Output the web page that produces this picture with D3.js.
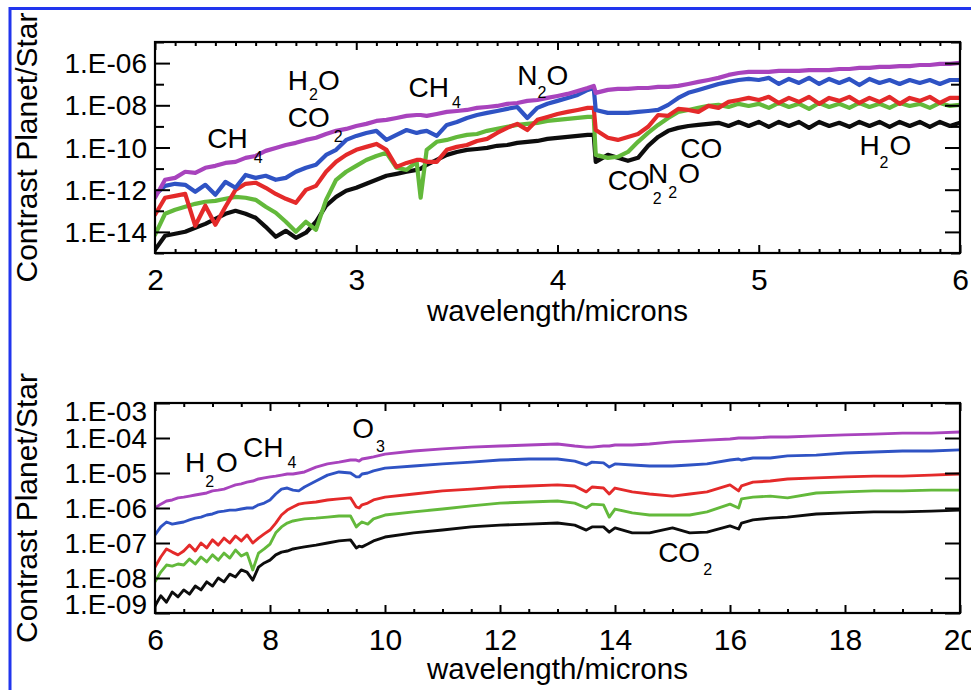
<!DOCTYPE html>
<html><head><meta charset="utf-8">
<script src="https://cdn.jsdelivr.net/npm/d3@7"></script>
<style>
body{margin:0;background:#fff}
svg{display:block}
text{font-family:"Liberation Sans",Arial,Helvetica,sans-serif;fill:#000}
</style>
</head><body>
<svg id="c" width="971" height="690"></svg>
<script>
// ---------- DATA (log10 of planet/star contrast) ----------
// Top panel: 2-6 microns
const waveSW = [2.00,2.05,2.10,2.15,2.20,2.25,2.30,2.35,2.40,2.45,2.50,2.55,2.60,2.65,2.70,2.75,2.80,2.85,2.90,2.95,3.00,3.05,3.10,3.15,3.20,3.25,3.30,3.32,3.35,3.40,3.45,3.50,3.55,3.60,3.65,3.70,3.75,3.80,3.85,3.90,3.95,4.00,4.05,4.10,4.15,4.18,4.19,4.25,4.30,4.35,4.40,4.45,4.50,4.55,4.60,4.65,4.70,4.75,4.80,4.85,4.90,4.95,5.00,5.05,5.10,5.15,5.20,5.25,5.30,5.35,5.40,5.45,5.50,5.55,5.60,5.65,5.70,5.75,5.80,5.85,5.90,5.95,6.00];
const magentaSW = [-12.38,-11.53,-11.44,-11.15,-11.20,-10.96,-10.87,-10.73,-10.68,-10.49,-10.40,-10.16,-10.02,-9.88,-9.78,-9.64,-9.54,-9.36,-9.21,-9.12,-8.98,-8.88,-8.74,-8.69,-8.60,-8.50,-8.46,-8.46,-8.50,-8.41,-8.31,-8.27,-8.22,-8.12,-8.08,-8.03,-7.93,-7.89,-7.79,-7.75,-7.65,-7.56,-7.46,-7.32,-7.18,-7.08,-7.41,-7.27,-7.22,-7.22,-7.18,-7.18,-7.13,-7.13,-7.08,-6.99,-6.89,-6.80,-6.70,-6.56,-6.47,-6.42,-6.42,-6.42,-6.37,-6.37,-6.37,-6.33,-6.33,-6.33,-6.28,-6.28,-6.23,-6.23,-6.18,-6.18,-6.14,-6.14,-6.09,-6.09,-6.04,-6.04,-5.99];
const blueSW = [-12.24,-11.82,-11.72,-11.77,-12.10,-11.77,-12.24,-11.63,-11.91,-11.30,-11.44,-11.34,-11.53,-11.44,-11.15,-10.96,-10.82,-10.35,-10.11,-9.64,-9.45,-9.31,-9.21,-9.64,-9.40,-9.17,-9.31,-9.26,-9.21,-9.45,-8.93,-8.79,-8.60,-8.46,-8.36,-8.27,-8.17,-8.08,-8.60,-8.12,-7.93,-7.79,-7.65,-7.51,-7.27,-7.18,-8.22,-8.36,-8.36,-8.36,-8.31,-8.27,-8.22,-7.98,-7.65,-7.41,-7.27,-7.13,-6.99,-6.89,-6.80,-6.75,-6.80,-6.70,-6.99,-6.75,-6.94,-6.70,-6.99,-6.75,-6.94,-6.75,-7.04,-6.75,-6.94,-6.80,-6.99,-6.80,-6.94,-6.80,-6.99,-6.80,-6.80];
const redSW = [-13.19,-12.38,-12.29,-12.20,-13.71,-12.76,-13.66,-12.81,-12.01,-11.72,-11.67,-11.91,-12.20,-12.43,-12.62,-12.01,-11.82,-11.15,-10.68,-10.35,-10.11,-9.97,-9.83,-10.11,-10.92,-10.73,-10.59,-10.59,-10.68,-10.68,-10.11,-9.97,-9.88,-9.69,-9.59,-9.31,-9.07,-8.88,-9.17,-8.69,-8.55,-8.41,-8.31,-8.22,-8.12,-8.12,-9.17,-9.54,-9.64,-9.50,-9.36,-9.02,-8.46,-8.50,-8.17,-8.22,-8.31,-8.03,-8.12,-7.84,-7.75,-7.65,-7.75,-7.60,-7.89,-7.65,-7.84,-7.60,-7.93,-7.65,-7.79,-7.60,-7.89,-7.65,-7.84,-7.60,-7.93,-7.65,-7.79,-7.60,-7.89,-7.65,-7.65];
const greenSW = [-14.14,-13.14,-12.95,-12.81,-12.67,-12.57,-12.53,-12.43,-12.34,-12.38,-12.48,-12.81,-13.09,-13.52,-13.99,-13.52,-13.90,-12.48,-11.53,-11.15,-10.87,-10.59,-10.40,-10.25,-10.96,-11.06,-10.68,-12.38,-10.11,-9.73,-9.64,-9.50,-9.40,-9.36,-9.21,-9.12,-9.02,-8.93,-8.88,-8.83,-8.74,-8.69,-8.64,-8.60,-8.55,-8.55,-10.35,-10.49,-10.44,-10.21,-9.73,-9.31,-8.93,-8.60,-8.31,-8.22,-8.12,-8.03,-7.98,-8.08,-7.93,-8.03,-7.93,-8.12,-7.89,-8.08,-7.93,-8.17,-7.89,-8.08,-7.93,-8.12,-7.89,-8.08,-7.93,-8.12,-7.89,-8.03,-7.93,-8.12,-7.89,-8.03,-7.98];
const blackSW = [-14.85,-14.18,-14.09,-13.99,-13.80,-13.62,-13.38,-13.14,-13.00,-13.14,-13.33,-13.76,-14.23,-13.95,-14.28,-14.04,-13.52,-12.76,-12.34,-12.05,-11.91,-11.72,-11.53,-11.34,-11.25,-11.15,-11.06,-11.01,-10.82,-10.59,-10.35,-10.21,-10.11,-10.07,-10.02,-9.92,-9.88,-9.78,-9.73,-9.69,-9.59,-9.54,-9.50,-9.45,-9.40,-9.40,-10.68,-10.35,-10.49,-10.63,-10.49,-9.92,-9.50,-9.21,-9.07,-8.98,-8.93,-8.88,-8.83,-8.98,-8.79,-8.98,-8.79,-9.02,-8.79,-8.98,-8.79,-9.07,-8.79,-8.98,-8.83,-9.02,-8.79,-8.98,-8.79,-9.02,-8.79,-8.98,-8.79,-9.02,-8.79,-8.98,-8.83];

// Bottom panel: 6-20 microns
const waveLW = [6.0,6.1,6.2,6.3,6.4,6.5,6.6,6.7,6.8,6.9,7.0,7.1,7.2,7.3,7.4,7.5,7.6,7.7,7.8,7.9,8.0,8.1,8.2,8.3,8.4,8.5,8.6,8.8,9.0,9.2,9.4,9.5,9.55,9.6,9.7,9.8,10.0,10.5,11.0,11.5,12.0,12.5,13.0,13.3,13.5,13.6,13.8,13.9,14.0,14.3,14.6,15.0,15.3,15.6,16.0,16.15,16.2,16.4,16.7,17.0,17.5,18.0,18.5,19.0,19.5,20.0];
const magentaLW = [-6.00,-5.89,-5.80,-5.77,-5.71,-5.69,-5.66,-5.63,-5.60,-5.57,-5.51,-5.49,-5.46,-5.40,-5.34,-5.31,-5.26,-5.23,-5.17,-5.14,-5.11,-5.09,-5.06,-5.03,-5.03,-5.00,-4.97,-4.83,-4.74,-4.69,-4.63,-4.63,-4.66,-4.60,-4.57,-4.54,-4.46,-4.37,-4.31,-4.26,-4.23,-4.20,-4.17,-4.23,-4.26,-4.26,-4.23,-4.23,-4.20,-4.20,-4.17,-4.11,-4.09,-4.06,-4.03,-4.00,-4.00,-4.00,-3.97,-3.97,-3.94,-3.91,-3.89,-3.86,-3.86,-3.83];
const blueLW = [-6.77,-6.54,-6.40,-6.46,-6.43,-6.40,-6.34,-6.29,-6.26,-6.20,-6.17,-6.11,-6.09,-6.06,-6.06,-6.03,-6.00,-6.00,-5.91,-5.86,-5.77,-5.60,-5.46,-5.43,-5.49,-5.51,-5.40,-5.23,-5.06,-4.97,-5.00,-5.11,-5.11,-5.03,-5.00,-4.94,-4.86,-4.80,-4.74,-4.69,-4.63,-4.60,-4.60,-4.66,-4.77,-4.69,-4.71,-4.83,-4.74,-4.77,-4.80,-4.80,-4.77,-4.74,-4.63,-4.60,-4.63,-4.57,-4.57,-4.51,-4.49,-4.43,-4.40,-4.37,-4.37,-4.34];
const redLW = [-7.69,-7.40,-7.17,-7.26,-7.34,-7.23,-7.06,-7.23,-7.00,-7.14,-6.91,-7.06,-6.86,-7.00,-6.80,-6.94,-6.77,-7.00,-6.86,-6.74,-6.63,-6.43,-6.20,-6.06,-5.97,-5.89,-5.86,-5.83,-5.77,-5.74,-5.71,-5.97,-6.00,-5.91,-5.86,-5.77,-5.69,-5.60,-5.51,-5.46,-5.40,-5.37,-5.34,-5.37,-5.54,-5.40,-5.43,-5.60,-5.43,-5.54,-5.60,-5.66,-5.60,-5.54,-5.34,-5.51,-5.37,-5.26,-5.23,-5.17,-5.14,-5.11,-5.09,-5.09,-5.06,-5.03];
const greenLW = [-8.11,-7.83,-7.63,-7.66,-7.60,-7.63,-7.46,-7.60,-7.40,-7.54,-7.34,-7.49,-7.29,-7.43,-7.20,-7.37,-7.29,-7.77,-7.29,-7.17,-7.03,-6.71,-6.54,-6.43,-6.37,-6.34,-6.31,-6.29,-6.26,-6.23,-6.23,-6.54,-6.46,-6.40,-6.46,-6.31,-6.20,-6.11,-6.03,-5.94,-5.86,-5.83,-5.80,-5.86,-6.00,-5.89,-5.91,-6.26,-6.03,-6.14,-6.20,-6.20,-6.20,-6.11,-5.89,-6.00,-5.74,-5.69,-5.66,-5.71,-5.57,-5.54,-5.51,-5.51,-5.49,-5.49];
const blackLW = [-8.80,-8.51,-8.69,-8.40,-8.54,-8.34,-8.46,-8.23,-8.34,-8.11,-8.23,-8.00,-8.11,-7.89,-7.97,-7.77,-7.83,-8.06,-7.69,-7.57,-7.49,-7.34,-7.26,-7.23,-7.17,-7.14,-7.11,-7.06,-7.00,-6.94,-6.91,-7.14,-7.09,-7.11,-7.03,-6.94,-6.83,-6.71,-6.63,-6.54,-6.49,-6.46,-6.43,-6.49,-6.63,-6.54,-6.54,-6.69,-6.57,-6.71,-6.71,-6.57,-6.71,-6.69,-6.51,-6.60,-6.43,-6.34,-6.29,-6.26,-6.17,-6.14,-6.11,-6.11,-6.09,-6.06];

// tick values
const xMajorSW = [2,3,4,5,6];
const xMajorLW = [6,8,10,12,14,16,18,20];
const yLabelSW = [1e-6,1e-8,1e-10,1e-12,1e-14];
const yMinorSW = [1e-5,1e-7,1e-9,1e-11,1e-13,1e-15];
const yLabelLW = [1e-3,1e-4,1e-5,1e-6,1e-7,1e-8,1e-9];

// molecule annotations: text pieces [text, dx, dy], wavelength, log10 contrast of baseline
const notesSW = [
  {p:[["CH",0,0],["4",6,15]], wl:2.26, lc:-10.02},
  {p:[["H",0,0],["2",1,10],["O",0,-10]], wl:2.66, lc:-7.27},
  {p:[["CO",0,0],["2",4,15]], wl:2.66, lc:-9.02},
  {p:[["CH",0,0],["4",3,11]], wl:3.26, lc:-7.60},
  {p:[["N",0,0],["2",0,13],["O",0,-13]], wl:3.80, lc:-7.04},
  {p:[["CO",0,0],["2",3,14]], wl:4.25, lc:-12.01},
  {p:[["N",0,0],["2",0,15],["O",1,-15]], wl:4.45, lc:-11.67},
  {p:[["CO",0,0]], wl:4.61, lc:-10.49},
  {p:[["H",0,0],["2",0,13],["O",1,-13]], wl:5.50, lc:-10.35}
];
const notesLW = [
  {p:[["H",0,0],["2",0,15],["O",2,-15]], wl:6.52, lc:-4.97},
  {p:[["CH",0,0],["4",4,11]], wl:7.53, lc:-4.54},
  {p:[["O",0,0],["3",2,14]], wl:9.43, lc:-4.00},
  {p:[["CO",0,0],["2",3,13]], wl:14.75, lc:-7.54}
];

const colors = {magenta:"#a843bd", blue:"#2f53c4", red:"#e42a2a", green:"#63b93b", black:"#0d0d0d"};

// ---------- DRAWING ----------
const svg = d3.select("#c");
svg.append("rect").attr("width",971).attr("height",690).attr("fill","#fff");
svg.append("rect").attr("x",10).attr("y",8.5).attr("width",1000).attr("height",760)
  .attr("fill","none").attr("stroke","#2135ee").attr("stroke-width",3);

const L = 155, R = 960;
const fmtE = d => "1.E-" + String(Math.round(-Math.log10(d))).padStart(2,"0");

function drawPanel(p, idx) {
  const x = d3.scaleLinear().domain(p.xDomain).range([L, R]);
  const y = d3.scaleLog().domain(p.yDomain).range([p.bottom, p.top]);
  const g = svg.append("g");
  const cid = "clip" + idx;
  svg.append("clipPath").attr("id", cid).append("rect")
    .attr("x", L).attr("y", p.top).attr("width", R - L).attr("height", p.bottom - p.top);

  const line = d3.line().x((d, i) => x(p.wave[i])).y(d => y(Math.pow(10, d)));
  p.series.forEach(s => {
    g.append("path").attr("clip-path", `url(#${cid})`)
      .attr("d", line(s.values)).attr("fill", "none")
      .attr("stroke", colors[s.name]).attr("stroke-width", p.lw)
      .attr("stroke-linejoin", "round").attr("stroke-linecap", "round");
  });

  const style = (sel, size) => {
    sel.select(".domain").remove();
    sel.selectAll("line").attr("stroke", "#000").attr("stroke-width", 2);
    sel.selectAll("text").style("font-family", '"Liberation Sans",Arial,sans-serif')
      .style("font-size", size + "px").attr("fill", "#000");
  };
  // x axes
  g.append("g").attr("transform", `translate(0,${p.bottom})`)
    .call(d3.axisBottom(x).tickValues(p.xMajor).tickSize(-8).tickPadding(16).tickFormat(d3.format("d")))
    .call(s => style(s, 30));
  g.append("g").attr("transform", `translate(0,${p.bottom})`)
    .call(d3.axisBottom(x).tickValues(p.xMinor).tickSize(-4).tickFormat(""))
    .call(s => style(s, 10));
  g.append("g").attr("transform", `translate(0,${p.top})`)
    .call(d3.axisTop(x).tickValues(p.xMajor).tickSize(-8).tickFormat(""))
    .call(s => style(s, 10));
  g.append("g").attr("transform", `translate(0,${p.top})`)
    .call(d3.axisTop(x).tickValues(p.xMinor).tickSize(-4).tickFormat(""))
    .call(s => style(s, 10));
  // y axes
  const yl = g.append("g").attr("transform", `translate(${L},0)`)
    .call(d3.axisLeft(y).tickValues(p.yLabel).tickSize(-15).tickPadding(8).tickFormat(fmtE))
    .call(s => style(s, 28));
  yl.selectAll(".tick text").attr("dy", d => (p.labelShift && p.labelShift(d)) ? p.labelShift(d) : "0.34em");
  g.append("g").attr("transform", `translate(${R},0)`)
    .call(d3.axisRight(y).tickValues(p.yLabel).tickSize(-15).tickFormat(""))
    .call(s => style(s, 10));
  if (p.yMinor.length) {
    g.append("g").attr("transform", `translate(${L},0)`)
      .call(d3.axisLeft(y).tickValues(p.yMinor).tickSize(-9).tickFormat(""))
      .call(s => style(s, 10));
    g.append("g").attr("transform", `translate(${R},0)`)
      .call(d3.axisRight(y).tickValues(p.yMinor).tickSize(-9).tickFormat(""))
      .call(s => style(s, 10));
  }
  // frame
  g.append("rect").attr("x", L).attr("y", p.top).attr("width", R - L).attr("height", p.bottom - p.top)
    .attr("fill", "none").attr("stroke", "#000").attr("stroke-width", 2.2);

  // titles
  g.append("text").attr("x", (L + R) / 2).attr("y", p.bottom + p.titleGap)
    .attr("text-anchor", "middle").attr("textLength", 261).attr("lengthAdjust", "spacingAndGlyphs")
    .style("font-size", "29px").text("wavelength/microns");
  g.append("text").attr("transform", `translate(37,${(p.top + p.bottom) / 2}) rotate(-90)`)
    .attr("text-anchor", "middle").attr("textLength", 270).attr("lengthAdjust", "spacingAndGlyphs")
    .style("font-size", "30px").text("Contrast Planet/Star");

  // molecule labels
  p.notes.forEach(n => {
    const t = g.append("text").attr("x", x(n.wl)).attr("y", y(Math.pow(10, n.lc))).style("font-size", "28px");
    n.p.forEach(([txt, dx, dy]) => {
      const isSub = /\d/.test(txt);
      t.append("tspan").attr("dx", dx).attr("dy", dy)
        .style("font-size", isSub ? "16px" : "28px").text(txt);
    });
  });
}

drawPanel({
  xDomain: [2, 6], yDomain: [1e-15, 1e-5], top: 42, bottom: 253, lw: 4.2,
  wave: waveSW,
  series: [
    {name: "black", values: blackSW}, {name: "green", values: greenSW},
    {name: "red", values: redSW}, {name: "blue", values: blueSW},
    {name: "magenta", values: magentaSW}],
  xMajor: xMajorSW, xMinor: d3.range(2, 6.001, 0.1).filter(v => Math.abs(v - Math.round(v)) > 1e-6),
  yLabel: yLabelSW, yMinor: yMinorSW, titleGap: 68, notes: notesSW
}, 0);

drawPanel({
  xDomain: [6, 20], yDomain: [1e-9, 1e-3], top: 403, bottom: 613, lw: 2.9,
  wave: waveLW,
  series: [
    {name: "black", values: blackLW}, {name: "green", values: greenLW},
    {name: "red", values: redLW}, {name: "blue", values: blueLW},
    {name: "magenta", values: magentaLW}],
  xMajor: xMajorLW, xMinor: d3.range(6.5, 20, 0.5).filter(v => v % 2 !== 0),
  yLabel: yLabelLW, yMinor: [], titleGap: 66, notes: notesLW,
  labelShift: d => d === 1e-3 ? "0.62em" : (d === 1e-9 ? "0.02em" : null)
}, 1);
</script>
</body></html>
